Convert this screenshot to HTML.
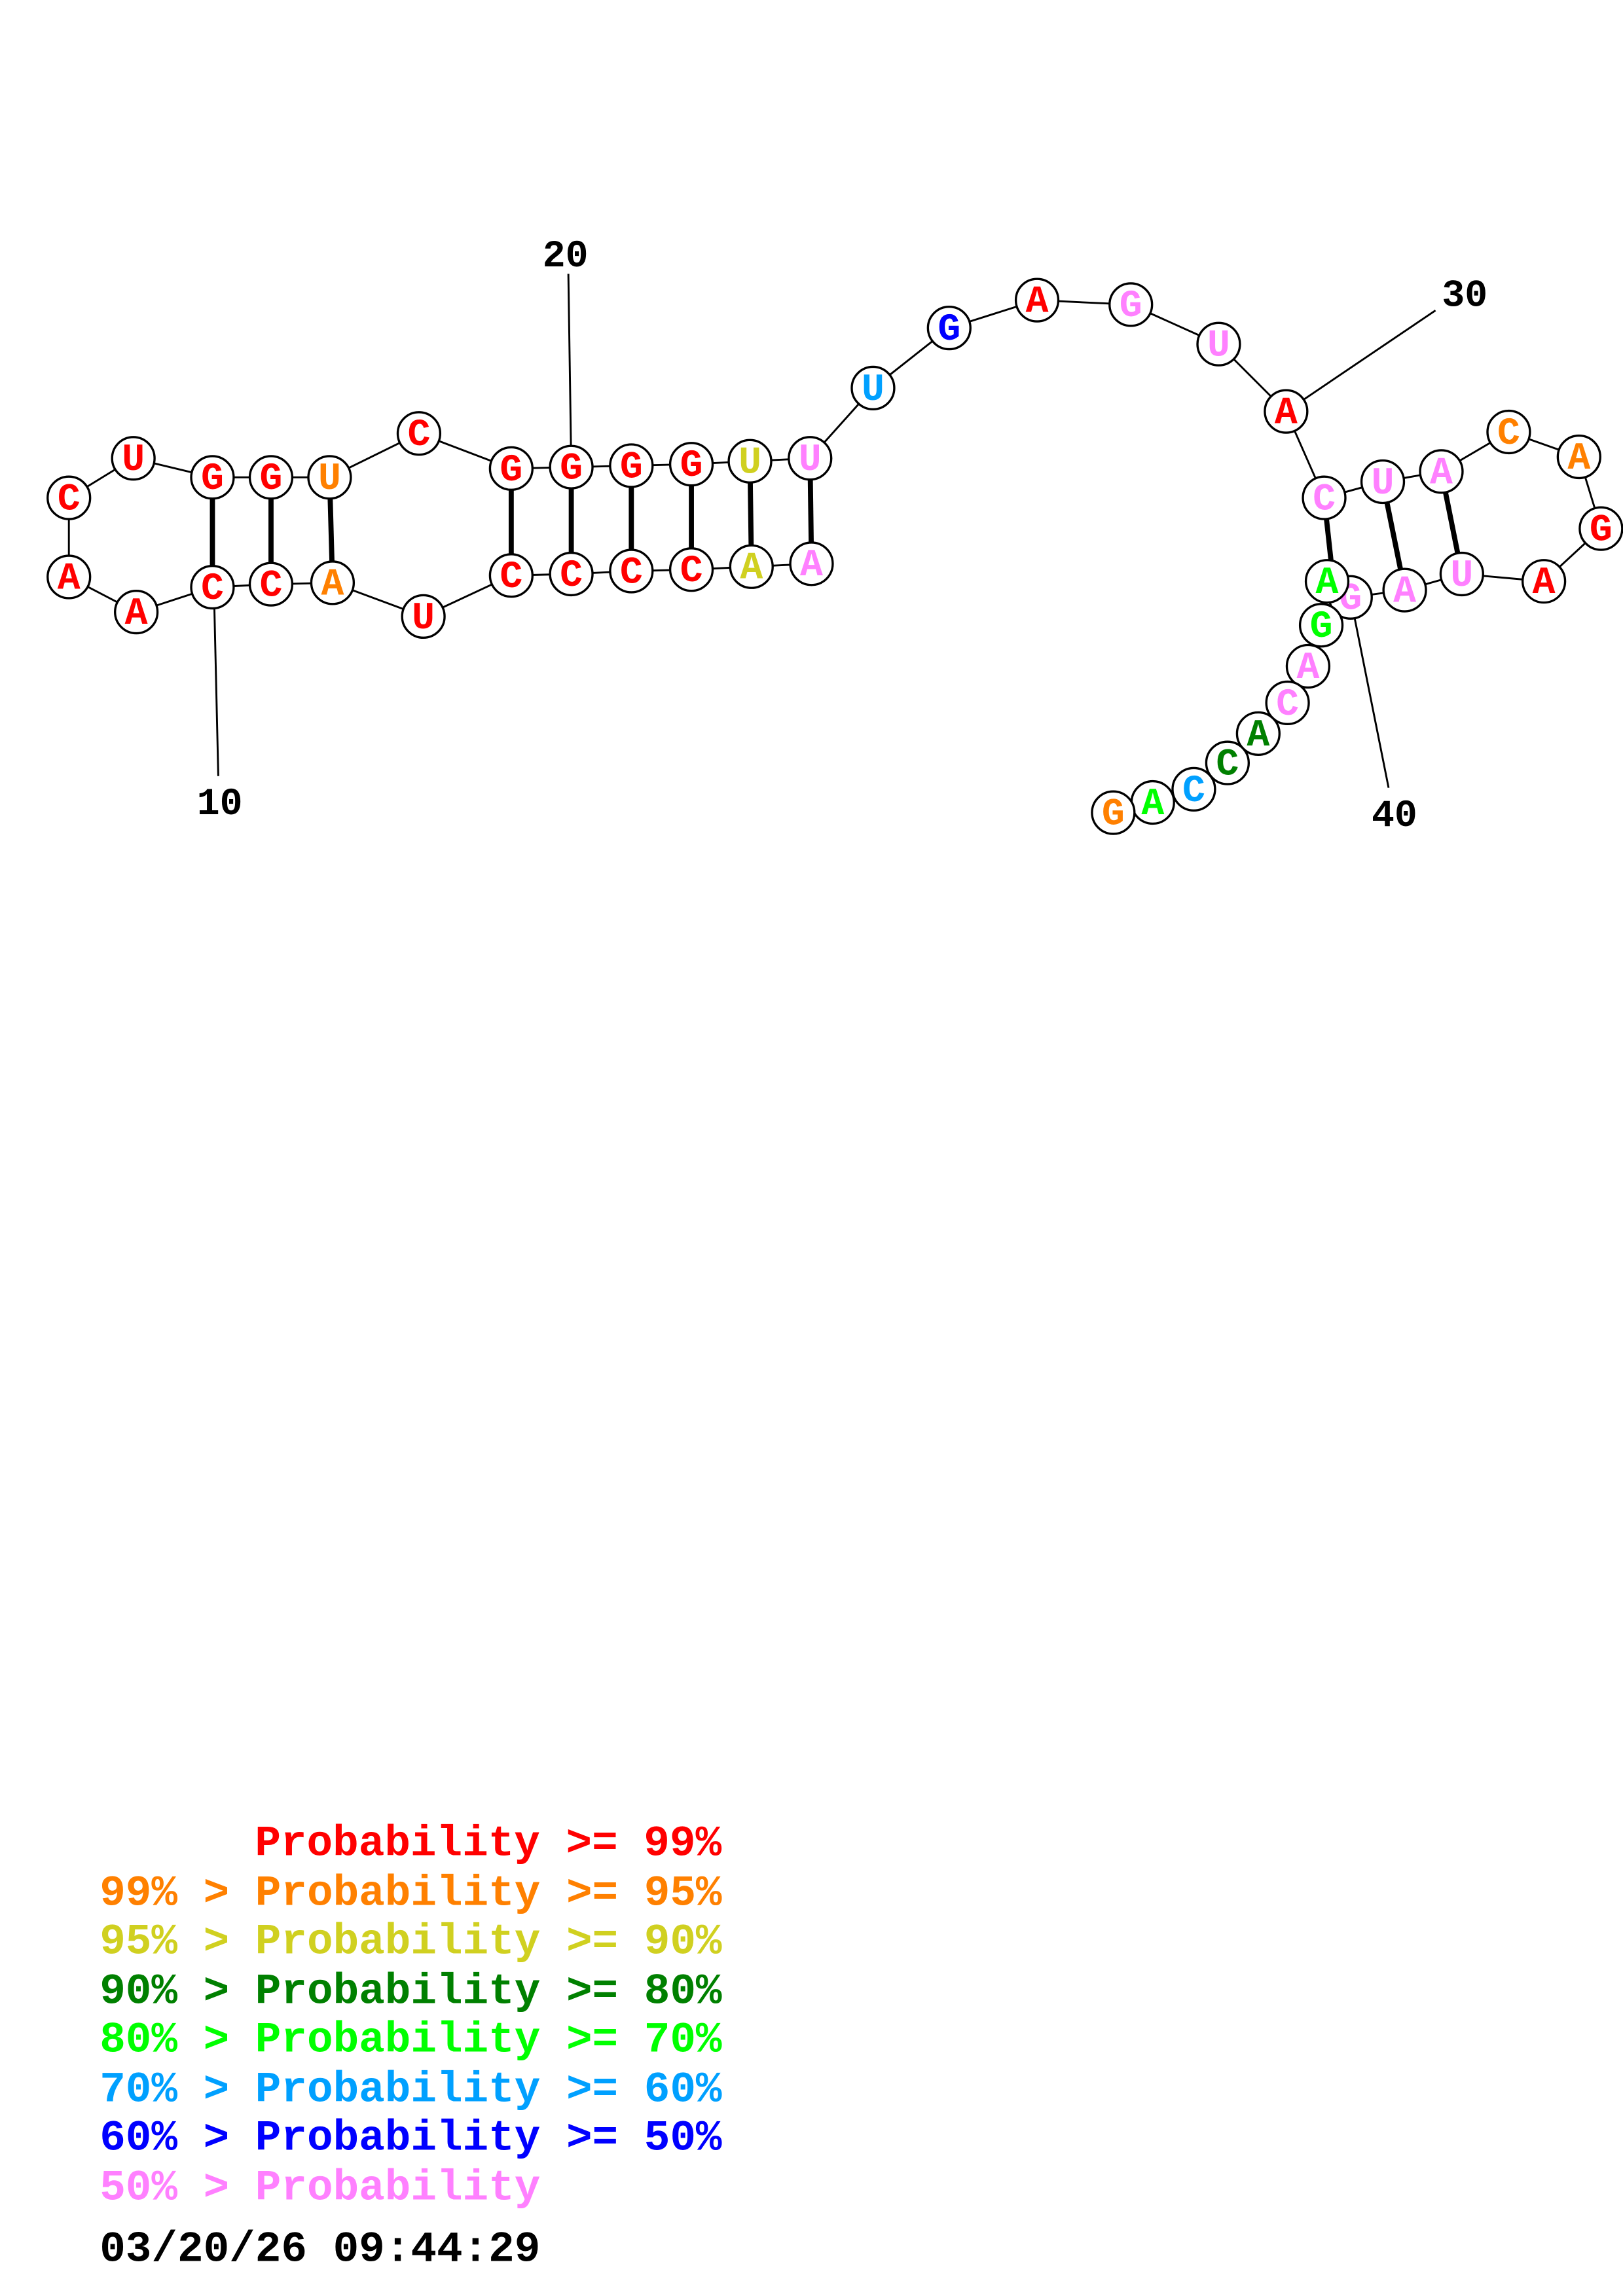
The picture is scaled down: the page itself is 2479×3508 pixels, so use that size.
<!DOCTYPE html>
<html><head><meta charset="utf-8"><style>html,body{margin:0;padding:0;background:#fff}svg{display:block}</style></head><body>
<svg xmlns="http://www.w3.org/2000/svg" width="2479" height="3508" viewBox="0 0 1108 1568">
<rect width="1108" height="1568" fill="#fff"/>
<g stroke="#000" stroke-width="1.3" fill="none">
<polyline points="554,385 513,387 472,389 431,390 390,392 349,393 289,421 227,398 185,399 145,401 93,418 47,394 47,340 91,313 145,326 185,326 225,326 286,296 349,320 390,319 431,318 472,317 512,315 553,313 596,265 648,224 708,205 772,208 832,235 878,281 904,340 944,329 984,322 1030,295 1078,312 1093,361 1054,397 998,392 959,403 922,408 906,397 902,427 893,455 879,480 859,501 838,521 815,539 787,548 760,555"/>
<line x1="388" y1="187" x2="390" y2="319"/>
<line x1="149" y1="530" x2="146" y2="401"/>
<line x1="980" y1="212" x2="878" y2="281"/>
<line x1="948" y1="538" x2="922" y2="408"/>
</g>
<g stroke="#000" stroke-width="3.5">
<line x1="554" y1="385" x2="553" y2="313"/><line x1="513" y1="387" x2="512" y2="315"/>
<line x1="472" y1="389" x2="472" y2="317"/><line x1="431" y1="390" x2="431" y2="318"/>
<line x1="390" y1="392" x2="390" y2="319"/><line x1="349" y1="393" x2="349" y2="320"/>
<line x1="227" y1="398" x2="225" y2="326"/><line x1="185" y1="399" x2="185" y2="326"/>
<line x1="145" y1="401" x2="145" y2="326"/>
<line x1="904" y1="340" x2="910" y2="395"/><line x1="944" y1="329" x2="959" y2="403"/>
<line x1="984" y1="322" x2="998" y2="392"/>
</g>
<g font-family="Liberation Mono, monospace" font-weight="bold" font-size="26" text-anchor="middle">
<g><circle cx="554" cy="385" r="14.5" fill="#fff" stroke="#000" stroke-width="1.5"/><text x="554" y="393" fill="#ff80ff">A</text></g>
<g><circle cx="513" cy="387" r="14.5" fill="#fff" stroke="#000" stroke-width="1.5"/><text x="513" y="395" fill="#d0d020">A</text></g>
<g><circle cx="472" cy="389" r="14.5" fill="#fff" stroke="#000" stroke-width="1.5"/><text x="472" y="397" fill="#f00">C</text></g>
<g><circle cx="431" cy="390" r="14.5" fill="#fff" stroke="#000" stroke-width="1.5"/><text x="431" y="398" fill="#f00">C</text></g>
<g><circle cx="390" cy="392" r="14.5" fill="#fff" stroke="#000" stroke-width="1.5"/><text x="390" y="400" fill="#f00">C</text></g>
<g><circle cx="349" cy="393" r="14.5" fill="#fff" stroke="#000" stroke-width="1.5"/><text x="349" y="401" fill="#f00">C</text></g>
<g><circle cx="289" cy="421" r="14.5" fill="#fff" stroke="#000" stroke-width="1.5"/><text x="289" y="429" fill="#f00">U</text></g>
<g><circle cx="227" cy="398" r="14.5" fill="#fff" stroke="#000" stroke-width="1.5"/><text x="227" y="406" fill="#ff8000">A</text></g>
<g><circle cx="185" cy="399" r="14.5" fill="#fff" stroke="#000" stroke-width="1.5"/><text x="185" y="407" fill="#f00">C</text></g>
<g><circle cx="145" cy="401" r="14.5" fill="#fff" stroke="#000" stroke-width="1.5"/><text x="145" y="409" fill="#f00">C</text></g>
<g><circle cx="93" cy="418" r="14.5" fill="#fff" stroke="#000" stroke-width="1.5"/><text x="93" y="426" fill="#f00">A</text></g>
<g><circle cx="47" cy="394" r="14.5" fill="#fff" stroke="#000" stroke-width="1.5"/><text x="47" y="402" fill="#f00">A</text></g>
<g><circle cx="47" cy="340" r="14.5" fill="#fff" stroke="#000" stroke-width="1.5"/><text x="47" y="348" fill="#f00">C</text></g>
<g><circle cx="91" cy="313" r="14.5" fill="#fff" stroke="#000" stroke-width="1.5"/><text x="91" y="321" fill="#f00">U</text></g>
<g><circle cx="145" cy="326" r="14.5" fill="#fff" stroke="#000" stroke-width="1.5"/><text x="145" y="334" fill="#f00">G</text></g>
<g><circle cx="185" cy="326" r="14.5" fill="#fff" stroke="#000" stroke-width="1.5"/><text x="185" y="334" fill="#f00">G</text></g>
<g><circle cx="225" cy="326" r="14.5" fill="#fff" stroke="#000" stroke-width="1.5"/><text x="225" y="334" fill="#ff8000">U</text></g>
<g><circle cx="286" cy="296" r="14.5" fill="#fff" stroke="#000" stroke-width="1.5"/><text x="286" y="304" fill="#f00">C</text></g>
<g><circle cx="349" cy="320" r="14.5" fill="#fff" stroke="#000" stroke-width="1.5"/><text x="349" y="328" fill="#f00">G</text></g>
<g><circle cx="390" cy="319" r="14.5" fill="#fff" stroke="#000" stroke-width="1.5"/><text x="390" y="327" fill="#f00">G</text></g>
<g><circle cx="431" cy="318" r="14.5" fill="#fff" stroke="#000" stroke-width="1.5"/><text x="431" y="326" fill="#f00">G</text></g>
<g><circle cx="472" cy="317" r="14.5" fill="#fff" stroke="#000" stroke-width="1.5"/><text x="472" y="325" fill="#f00">G</text></g>
<g><circle cx="512" cy="315" r="14.5" fill="#fff" stroke="#000" stroke-width="1.5"/><text x="512" y="323" fill="#d0d020">U</text></g>
<g><circle cx="553" cy="313" r="14.5" fill="#fff" stroke="#000" stroke-width="1.5"/><text x="553" y="321" fill="#ff80ff">U</text></g>
<g><circle cx="596" cy="265" r="14.5" fill="#fff" stroke="#000" stroke-width="1.5"/><text x="596" y="273" fill="#00a0ff">U</text></g>
<g><circle cx="648" cy="224" r="14.5" fill="#fff" stroke="#000" stroke-width="1.5"/><text x="648" y="232" fill="#00f">G</text></g>
<g><circle cx="708" cy="205" r="14.5" fill="#fff" stroke="#000" stroke-width="1.5"/><text x="708" y="213" fill="#f00">A</text></g>
<g><circle cx="772" cy="208" r="14.5" fill="#fff" stroke="#000" stroke-width="1.5"/><text x="772" y="216" fill="#ff80ff">G</text></g>
<g><circle cx="832" cy="235" r="14.5" fill="#fff" stroke="#000" stroke-width="1.5"/><text x="832" y="243" fill="#ff80ff">U</text></g>
<g><circle cx="878" cy="281" r="14.5" fill="#fff" stroke="#000" stroke-width="1.5"/><text x="878" y="289" fill="#f00">A</text></g>
<g><circle cx="904" cy="340" r="14.5" fill="#fff" stroke="#000" stroke-width="1.5"/><text x="904" y="348" fill="#ff80ff">C</text></g>
<g><circle cx="944" cy="329" r="14.5" fill="#fff" stroke="#000" stroke-width="1.5"/><text x="944" y="337" fill="#ff80ff">U</text></g>
<g><circle cx="984" cy="322" r="14.5" fill="#fff" stroke="#000" stroke-width="1.5"/><text x="984" y="330" fill="#ff80ff">A</text></g>
<g><circle cx="1030" cy="295" r="14.5" fill="#fff" stroke="#000" stroke-width="1.5"/><text x="1030" y="303" fill="#ff8000">C</text></g>
<g><circle cx="1078" cy="312" r="14.5" fill="#fff" stroke="#000" stroke-width="1.5"/><text x="1078" y="320" fill="#ff8000">A</text></g>
<g><circle cx="1093" cy="361" r="14.5" fill="#fff" stroke="#000" stroke-width="1.5"/><text x="1093" y="369" fill="#f00">G</text></g>
<g><circle cx="1054" cy="397" r="14.5" fill="#fff" stroke="#000" stroke-width="1.5"/><text x="1054" y="405" fill="#f00">A</text></g>
<g><circle cx="998" cy="392" r="14.5" fill="#fff" stroke="#000" stroke-width="1.5"/><text x="998" y="400" fill="#ff80ff">U</text></g>
<g><circle cx="959" cy="403" r="14.5" fill="#fff" stroke="#000" stroke-width="1.5"/><text x="959" y="411" fill="#ff80ff">A</text></g>
<g><circle cx="922" cy="408" r="14.5" fill="#fff" stroke="#000" stroke-width="1.5"/><text x="922" y="416" fill="#ff80ff">G</text></g>
<g><circle cx="906" cy="397" r="14.5" fill="#fff" stroke="#000" stroke-width="1.5"/><text x="906" y="405" fill="#00ff00">A</text></g>
<g><circle cx="902" cy="427" r="14.5" fill="#fff" stroke="#000" stroke-width="1.5"/><text x="902" y="435" fill="#00ff00">G</text></g>
<g><circle cx="893" cy="455" r="14.5" fill="#fff" stroke="#000" stroke-width="1.5"/><text x="893" y="463" fill="#ff80ff">A</text></g>
<g><circle cx="879" cy="480" r="14.5" fill="#fff" stroke="#000" stroke-width="1.5"/><text x="879" y="488" fill="#ff80ff">C</text></g>
<g><circle cx="859" cy="501" r="14.5" fill="#fff" stroke="#000" stroke-width="1.5"/><text x="859" y="509" fill="#008000">A</text></g>
<g><circle cx="838" cy="521" r="14.5" fill="#fff" stroke="#000" stroke-width="1.5"/><text x="838" y="529" fill="#008000">C</text></g>
<g><circle cx="815" cy="539" r="14.5" fill="#fff" stroke="#000" stroke-width="1.5"/><text x="815" y="547" fill="#00a0ff">C</text></g>
<g><circle cx="787" cy="548" r="14.5" fill="#fff" stroke="#000" stroke-width="1.5"/><text x="787" y="556" fill="#00ff00">A</text></g>
<g><circle cx="760" cy="555" r="14.5" fill="#fff" stroke="#000" stroke-width="1.5"/><text x="760" y="563" fill="#ff8000">G</text></g>
</g>
<g font-family="Liberation Mono, monospace" font-weight="bold" font-size="26" fill="#000">
<text x="386" y="182" text-anchor="middle">20</text>
<text x="150" y="556" text-anchor="middle">10</text>
<text x="1000" y="209" text-anchor="middle">30</text>
<text x="952" y="564" text-anchor="middle">40</text>
</g>
<g font-family="Liberation Mono, monospace" font-weight="bold" font-size="29.5">
<text x="174" y="1267" fill="#f00">Probability &gt;= 99%</text>
<text x="68" y="1301" fill="#ff8000">99% &gt; Probability &gt;= 95%</text>
<text x="68" y="1334" fill="#d0d020">95% &gt; Probability &gt;= 90%</text>
<text x="68" y="1368" fill="#008000">90% &gt; Probability &gt;= 80%</text>
<text x="68" y="1401" fill="#00ff00">80% &gt; Probability &gt;= 70%</text>
<text x="68" y="1435" fill="#00a0ff">70% &gt; Probability &gt;= 60%</text>
<text x="68" y="1468" fill="#00f">60% &gt; Probability &gt;= 50%</text>
<text x="68" y="1502" fill="#ff80ff">50% &gt; Probability</text>
<text x="68" y="1544" fill="#000">03/20/26 09:44:29</text>
</g>
</svg>
</body></html>
